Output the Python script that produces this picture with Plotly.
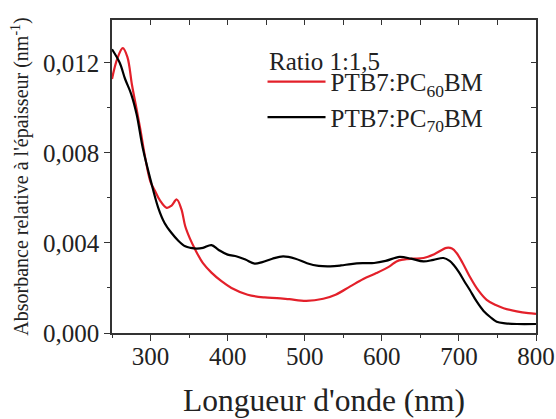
import plotly.graph_objects as go

# wavelength (nm) and absorbance per thickness (nm^-1)
wl_pc60 = [250, 257, 264, 270, 276, 281, 287, 293, 300, 306, 312, 321, 327, 334, 340,
           345, 351, 358, 368, 379, 392, 405, 426, 448, 464, 480, 502, 524, 540, 559,
           576, 593, 610, 619, 628, 641, 654, 668, 684, 691, 697, 705, 714, 725, 736,
           747, 758, 775, 790, 800]
abs_pc60 = [0.01128, 0.0122, 0.01265, 0.01225, 0.0110, 0.0101, 0.0090, 0.0078, 0.0067,
            0.0063, 0.0059, 0.00556, 0.00565, 0.00593, 0.0055, 0.00474, 0.0042, 0.0037,
            0.0031, 0.00268, 0.0023, 0.0020, 0.0017, 0.00158, 0.00155, 0.0015, 0.00143,
            0.00152, 0.0017, 0.00207, 0.0024, 0.00266, 0.00296, 0.00318, 0.00326, 0.0033,
            0.00333, 0.0035, 0.00378, 0.00375, 0.00355, 0.0031, 0.00251, 0.0019, 0.00147,
            0.00125, 0.0011, 0.00096, 0.00088, 0.00085]

wl_pc70 = [250, 260, 267, 275, 282, 290, 300, 310, 318, 327, 336, 345, 352, 360, 368,
           379, 388, 400, 412, 423, 435, 445, 458, 472, 488, 503, 518, 533, 547, 560,
           575, 590, 605, 623, 638, 654, 667, 680, 688, 693, 700, 707, 714, 723, 732,
           741, 749, 760, 775, 800]
abs_pc70 = [0.0126, 0.0120, 0.01128, 0.0106, 0.0097, 0.0082, 0.0068, 0.00556, 0.0049,
            0.00445, 0.0041, 0.00385, 0.00378, 0.00375, 0.00378, 0.0039, 0.0037, 0.00348,
            0.0034, 0.00326, 0.00308, 0.00315, 0.0033, 0.0034, 0.0033, 0.0031, 0.00298,
            0.00296, 0.003, 0.00306, 0.0031, 0.00311, 0.0032, 0.00338, 0.0033, 0.00318,
            0.00325, 0.00333, 0.0032, 0.00303, 0.0027, 0.0023, 0.00192, 0.0014, 0.00098,
            0.0007, 0.0005, 0.00043, 0.0004, 0.0004]

x_ticks = [300, 400, 500, 600, 700, 800]
y_ticks = [0.0, 0.004, 0.008, 0.012]
y_tick_text = ["0,000", "0,004", "0,008", "0,012"]

x_range = [250, 800]
y_range = [0, 0.0139]

font = "Liberation Serif"
axis_col = "#333333"
tick_font = dict(family=font, size=25, color="#222222")

fig = go.Figure()

fig.add_trace(go.Scatter(x=wl_pc60, y=abs_pc60, mode="lines", name="PTB7:PC<sub>60</sub>BM",
                         line=dict(color="#e3202a", width=2.2, shape="spline")))
fig.add_trace(go.Scatter(x=wl_pc70, y=abs_pc70, mode="lines", name="PTB7:PC<sub>70</sub>BM",
                         xaxis="x2", yaxis="y2",
                         line=dict(color="black", width=2.2, shape="spline")))

# legend heading as a separate label, sits just above the legend items
fig.add_annotation(text="Ratio 1:1,5", xref="paper", yref="paper", x=0.366, y=0.866,
                   xanchor="left", yanchor="middle", showarrow=False,
                   font=dict(family=font, size=25, color="#222222"))

fig.update_layout(
    width=556, height=419,
    margin=dict(l=112, r=20, t=20, b=86),
    paper_bgcolor="white", plot_bgcolor="white",
    font=dict(family=font, color="#222222", size=22),
    xaxis=dict(range=x_range, tickvals=x_ticks, ticks="outside", ticklen=6, tickwidth=1.2,
               tickcolor=axis_col, showline=True, linecolor=axis_col, linewidth=1.5,
               showgrid=False, zeroline=False, tickfont=tick_font, ticklabelstandoff=-6,
               ticklabeloverflow="allow", automargin=False,
               minor=dict(ticks="outside", dtick=50, tick0=250, ticklen=3, tickcolor=axis_col),
               title=dict(text="Longueur d'onde (nm)", font=dict(family=font, size=31.5),
                          standoff=20)),
    yaxis=dict(range=y_range, tickvals=y_ticks, ticktext=y_tick_text, ticks="outside",
               ticklen=6, tickwidth=1.2, tickcolor=axis_col, showline=True,
               linecolor=axis_col, linewidth=1.5, showgrid=False, zeroline=False,
               tickfont=tick_font, automargin=False,
               minor=dict(ticks="outside", dtick=0.002, tick0=0, ticklen=3, tickcolor=axis_col),
               title=dict(text="Absorbance relative à l'épaisseur (nm<sup>-1</sup>)",
                          font=dict(family=font, size=20), standoff=9)),
    xaxis2=dict(range=x_range, overlaying="x", anchor="y2", side="top", tickvals=x_ticks,
                ticks="inside", ticklen=5, tickcolor=axis_col, showticklabels=False,
                showline=True, linecolor=axis_col, linewidth=1.5, showgrid=False,
                zeroline=False,
                minor=dict(ticks="inside", dtick=50, tick0=250, ticklen=5, tickcolor=axis_col)),
    yaxis2=dict(range=y_range, overlaying="y", anchor="x2", side="right", tickvals=y_ticks,
                ticks="inside", ticklen=5, tickcolor=axis_col, showticklabels=False,
                showline=True, linecolor=axis_col, linewidth=1.5, showgrid=False,
                zeroline=False,
                minor=dict(ticks="inside", dtick=0.002, tick0=0, ticklen=5, tickcolor=axis_col)),
    legend=dict(x=0.355, y=0.876, xanchor="left", yanchor="top", bgcolor="rgba(0,0,0,0)",
                font=dict(size=25, family=font), itemwidth=58, tracegroupgap=0),
)

# drop the page's default body margin so the 556x419 figure fills the window
fig.write_html("out.html", config={"displayModeBar": False},
               post_script="document.body.style.margin = '0';")
